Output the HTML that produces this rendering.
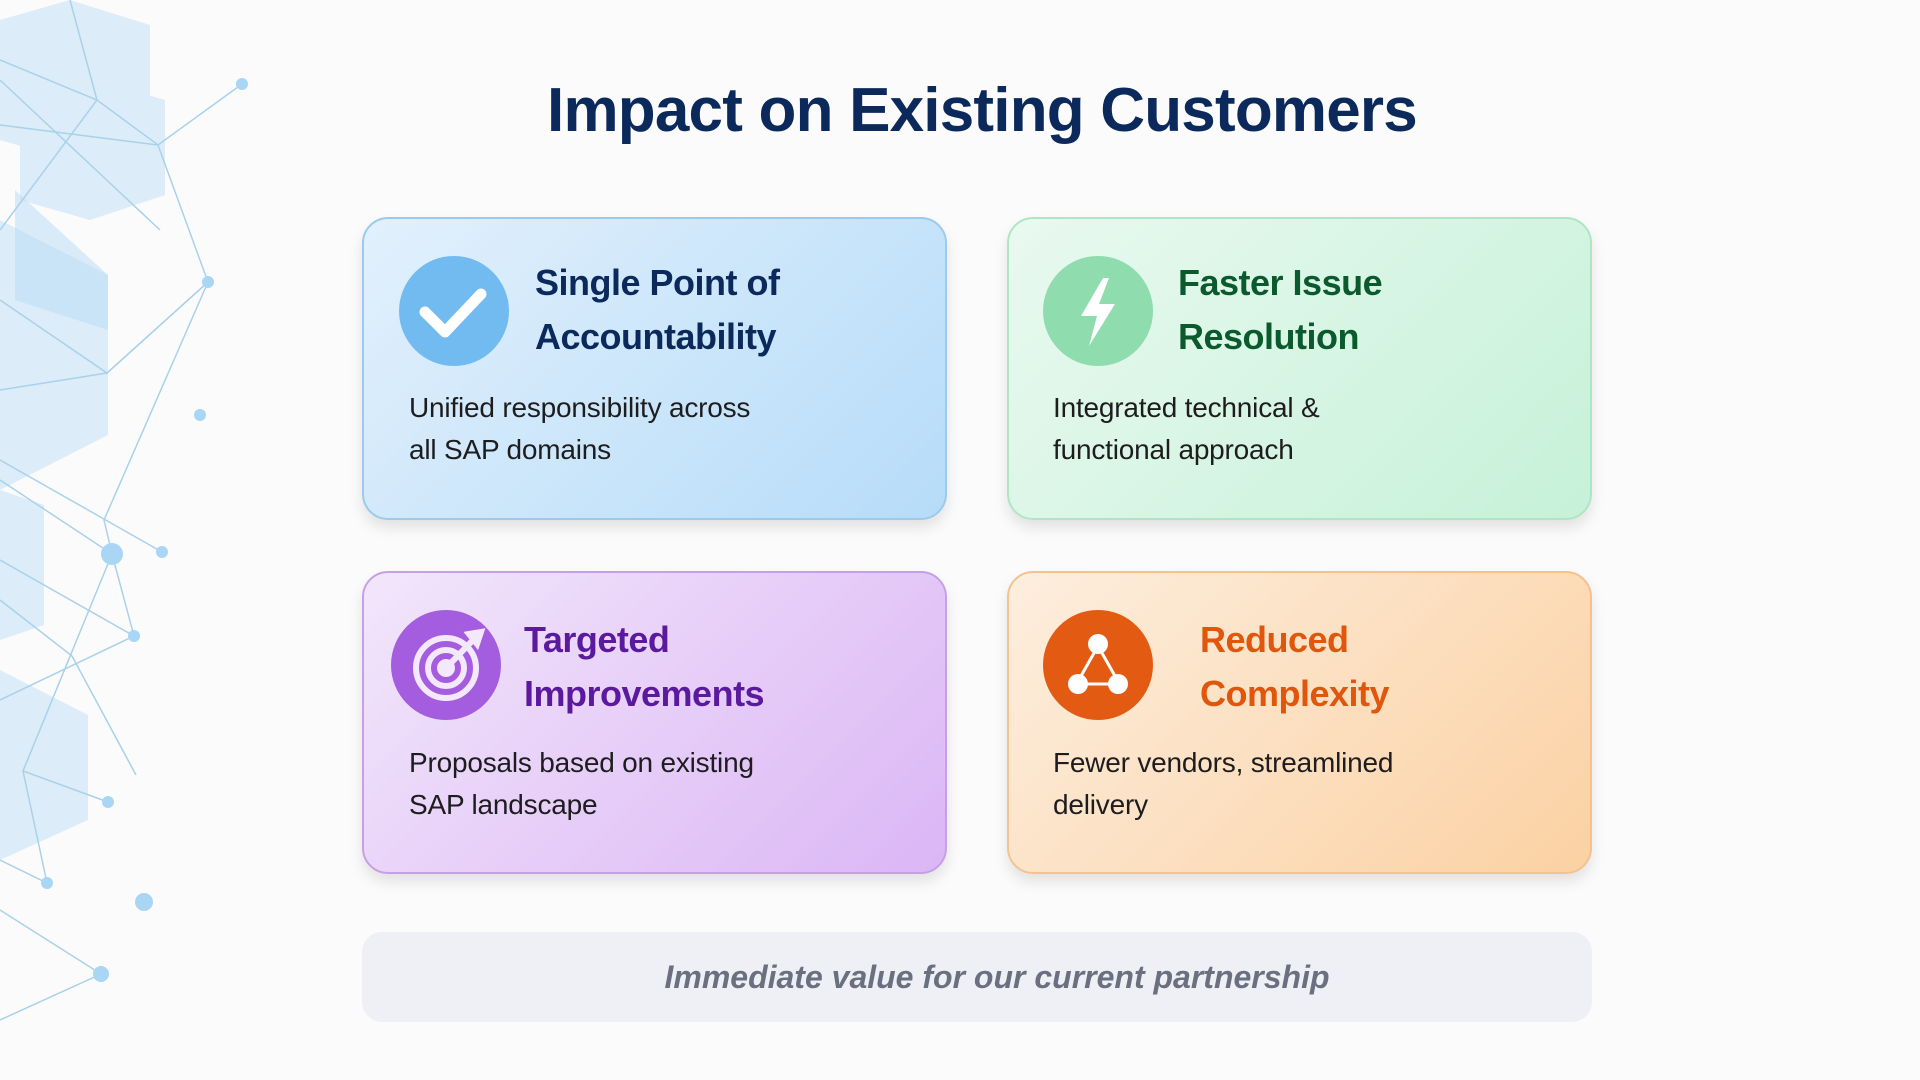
<!DOCTYPE html>
<html><head><meta charset="utf-8"><style>
html,body{margin:0;padding:0;}
body{width:1920px;height:1080px;position:relative;overflow:hidden;background:#fbfbfc;font-family:"Liberation Sans",sans-serif;}
.title{position:absolute;left:22px;width:1920px;top:75px;text-align:center;font-size:62px;font-weight:bold;color:#0b2a5b;letter-spacing:-0.8px;}
.card{position:absolute;width:585px;height:303px;border-radius:26px;box-sizing:border-box;border:2px solid;box-shadow:0 8px 14px rgba(0,0,0,0.10);}
.c1{left:362px;top:217px;background:linear-gradient(135deg,#e2f0fc,#b6dcf9);border-color:#9ccaec;}
.c2{left:1007px;top:217px;background:linear-gradient(135deg,#e9f9f0,#c6f1d8);border-color:#aee6c4;}
.c3{left:362px;top:571px;background:linear-gradient(135deg,#f2e6fb,#dbb6f5);border-color:#c6a0e6;}
.c4{left:1007px;top:571px;background:linear-gradient(135deg,#fdeede,#fbd1a3);border-color:#f3c28e;}
.ic{position:absolute;width:110px;height:110px;border-radius:50%;}
.h{position:absolute;font-size:36px;font-weight:bold;line-height:54px;letter-spacing:-0.5px;}
.b{position:absolute;font-size:28px;line-height:42px;color:#1d1d1f;letter-spacing:-0.2px;}
.bar{position:absolute;left:362px;top:932px;width:1230px;height:90px;border-radius:20px;background:#eef0f5;}
.bar div{text-align:center;padding-left:40px;line-height:90px;font-size:32px;font-weight:bold;font-style:italic;color:#6b7080;}
</style></head><body>
<svg style="position:absolute;left:0;top:0" width="320" height="1080">
<g fill="#cfe6f8" opacity="0.7">
<polygon points="0,20 70,0 150,25 150,130 70,160 0,140"/>
<polygon points="20,100 90,78 165,100 165,195 90,220 20,200"/>
<polygon points="0,220 108,275 108,435 0,490"/>
<polygon points="0,490 44,505 44,625 0,640"/>
<polygon points="0,670 88,715 88,820 0,860"/>
</g>
<g fill="#b8dcf5" opacity="0.5"><polygon points="15,190 108,275 108,330 15,300"/></g>
<g stroke="#a9d2ea" stroke-width="1.5" fill="none">
<polyline points="0,60 97,100 158,145 242,84"/>
<polyline points="70,0 97,100 0,230"/>
<polyline points="0,125 158,145 208,282 107,373 0,300"/>
<polyline points="0,390 107,373 208,282"/>
<polyline points="208,282 104,520 112,554 134,636"/>
<polyline points="0,460 162,552"/>
<polyline points="0,480 112,554"/>
<polyline points="0,560 134,636 0,700"/>
<polyline points="0,600 72,656 136,775"/>
<polyline points="112,554 23,771 108,802"/>
<polyline points="23,771 47,883 0,860"/>
<polyline points="0,910 101,974 0,1020"/>
<polyline points="0,80 160,230"/>
</g>
<g fill="#a9d6f5">
<circle cx="242" cy="84" r="6"/><circle cx="208" cy="282" r="6"/><circle cx="200" cy="415" r="6"/>
<circle cx="112" cy="554" r="11"/><circle cx="162" cy="552" r="6"/><circle cx="134" cy="636" r="6"/>
<circle cx="108" cy="802" r="6"/><circle cx="47" cy="883" r="6"/><circle cx="144" cy="902" r="9"/><circle cx="101" cy="974" r="8"/>
</g>
</svg>
<div class="title">Impact on Existing Customers</div>

<div class="card c1"></div>
<div class="ic" style="left:399px;top:256px;background:#72bbf1"></div>
<svg style="position:absolute;left:399px;top:256px" width="110" height="110"><polyline points="26,56 46,76 82,38" stroke="#fff" stroke-width="11" fill="none" stroke-linecap="round" stroke-linejoin="round"/></svg>
<div class="h" style="left:535px;top:256px;color:#0b2a5b">Single Point of<br>Accountability</div>
<div class="b" style="left:409px;top:387px">Unified responsibility across<br>all SAP domains</div>

<div class="card c2"></div>
<div class="ic" style="left:1043px;top:256px;background:#8fdcae"></div>
<svg style="position:absolute;left:1043px;top:256px" width="110" height="110"><polygon points="60,22 38,60 54,60 46,90 72,48 56,48 66,22" fill="#fff"/></svg>
<div class="h" style="left:1178px;top:256px;color:#0b5a2e">Faster Issue<br>Resolution</div>
<div class="b" style="left:1053px;top:387px">Integrated technical &amp;<br>functional approach</div>

<div class="card c3"></div>
<div class="ic" style="left:391px;top:610px;background:#a45ddf"></div>
<svg style="position:absolute;left:391px;top:610px" width="110" height="110" fill="none" stroke="#f3e8fc" stroke-width="6"><circle cx="55" cy="58" r="30"/><circle cx="55" cy="58" r="18"/><circle cx="55" cy="58" r="6" fill="#f3e8fc"/><line x1="56" y1="57" x2="82" y2="30"/><polygon points="78,24 90,22 86,34" fill="#f3e8fc"/></svg>
<div class="h" style="left:524px;top:613px;color:#5b1a9e">Targeted<br>Improvements</div>
<div class="b" style="left:409px;top:742px">Proposals based on existing<br>SAP landscape</div>

<div class="card c4"></div>
<div class="ic" style="left:1043px;top:610px;background:#e35a12"></div>
<svg style="position:absolute;left:1043px;top:610px" width="110" height="110"><g stroke="#fff" stroke-width="3"><line x1="55" y1="36" x2="38" y2="66"/><line x1="55" y1="36" x2="72" y2="66"/><line x1="38" y1="74" x2="72" y2="74"/></g><circle cx="55" cy="34" r="10" fill="#fff"/><circle cx="35" cy="74" r="10" fill="#fff"/><circle cx="75" cy="74" r="10" fill="#fff"/></svg>
<div class="h" style="left:1200px;top:613px;color:#e0560c">Reduced<br>Complexity</div>
<div class="b" style="left:1053px;top:742px">Fewer vendors, streamlined<br>delivery</div>

<div class="bar"><div>Immediate value for our current partnership</div></div>
</body></html>
